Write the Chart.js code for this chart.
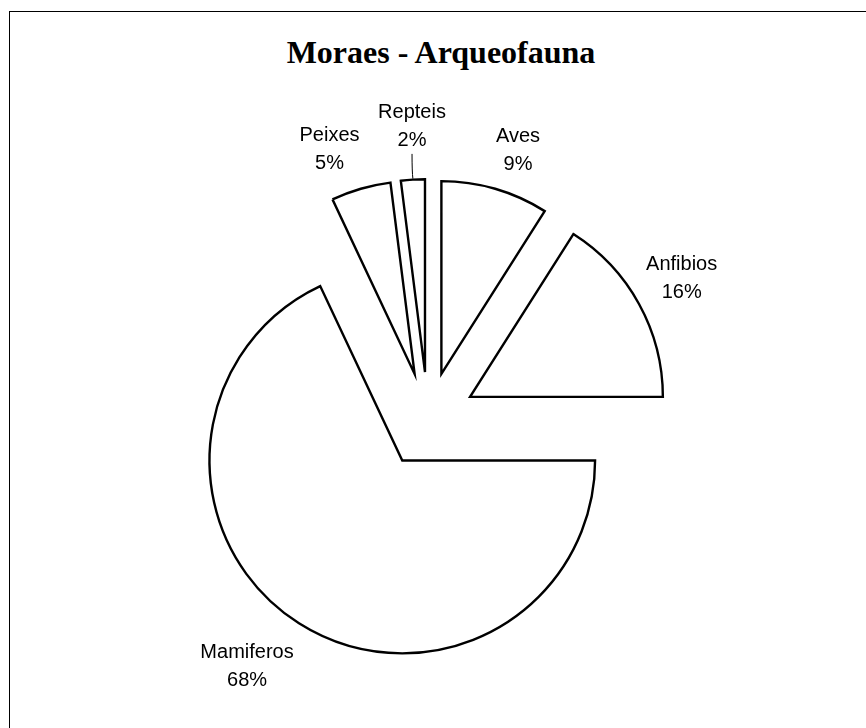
<!DOCTYPE html>
<html>
<head>
<meta charset="utf-8">
<script src="https://cdn.jsdelivr.net/npm/chart.js@4/dist/chart.umd.min.js"></script>
<style>
  html, body { margin: 0; padding: 0; background: #fff; overflow: hidden; }
  #wrap { position: relative; width: 866px; height: 728px; overflow: hidden; }
  #frame { position: absolute; left: 9px; top: 11px; width: 1000px; height: 1000px;
           border-left: 1px solid #000; border-top: 1px solid #000; box-sizing: border-box; }
  #title { position: absolute; left: 441px; top: 36px; transform: translateX(-50%);
           font-family: "Liberation Serif", "Times New Roman", serif; font-weight: bold;
           font-size: 32px; line-height: 32px; white-space: nowrap; color: #000; }
  canvas { position: absolute; left: 0; top: 0; }
</style>
</head>
<body>
<div id="wrap">
  <div id="frame"></div>
  <div id="title">Moraes - Arqueofauna</div>
  <canvas id="c" width="866" height="728"></canvas>
</div>
<script>
// ---- data ----
const categories = ["Aves", "Anfibios", "Mamiferos", "Peixes", "Repteis"];
const percentages = [9, 16, 68, 5, 2];

// ---- style / layout ----
const EXPLODE = 48;
const labelAngleNudge = [2.6, -0.9, 4.9, -4.4, 0.6];   // degrees
const labelGap = [15, 8, 16, 16, 29];                   // px beyond rim
const LABEL_FONT = '20px "Liberation Sans", Arial, sans-serif';
const LINE_H = 28;
const TEXT_SHIFT = 2;

const explodePlugin = {
  id: 'explode',
  beforeDatasetDraw(chart, args) {
    const ctx = chart.ctx;
    args.meta.data.forEach(arc => {
      const p = arc.getProps(['startAngle', 'endAngle'], true);
      const mid = (p.startAngle + p.endAngle) / 2;
      ctx.save();
      ctx.translate(Math.cos(mid) * EXPLODE, Math.sin(mid) * EXPLODE);
      arc.draw(ctx);
      ctx.restore();
    });
    return false;
  }
};

const labelPlugin = {
  id: 'sliceLabels',
  afterDatasetsDraw(chart) {
    const ctx = chart.ctx;
    const meta = chart.getDatasetMeta(0);
    const vals = chart.data.datasets[0].data;
    const total = vals.reduce((a, b) => a + b, 0);
    ctx.save();
    ctx.font = LABEL_FONT;
    ctx.fillStyle = '#000';
    ctx.textAlign = 'center';
    ctx.textBaseline = 'middle';
    meta.data.forEach((arc, i) => {
      const p = arc.getProps(['x', 'y', 'startAngle', 'endAngle', 'outerRadius'], true);
      const mid = (p.startAngle + p.endAngle) / 2;
      const ex = p.x + Math.cos(mid) * EXPLODE;
      const ey = p.y + Math.sin(mid) * EXPLODE;
      const a = mid + labelAngleNudge[i] * Math.PI / 180;
      const dx = Math.cos(a), dy = Math.sin(a);
      const name = chart.data.labels[i];
      const pct = Math.round(vals[i] / total * 100) + '%';
      const w = Math.max(ctx.measureText(name).width, ctx.measureText(pct).width);
      const h = LINE_H + 20;
      const half = Math.abs(dx) * w / 2 + Math.abs(dy) * h / 2;
      const dist = p.outerRadius + labelGap[i] + half;
      const cx = ex + dx * dist;
      const cy = ey + dy * dist + TEXT_SHIFT;
      ctx.fillText(name, cx, cy - LINE_H / 2);
      ctx.fillText(pct, cx, cy + LINE_H / 2);
      if (labelGap[i] > 20) {
        const rx = ex + Math.cos(mid) * p.outerRadius;
        const ry = ey + Math.sin(mid) * p.outerRadius;
        ctx.beginPath();
        ctx.lineWidth = 1;
        ctx.strokeStyle = '#000';
        ctx.moveTo(cx, cy + LINE_H / 2 + 13);
        ctx.quadraticCurveTo(cx, ry - 8, rx, ry - 1);
        ctx.stroke();
      }
    });
    ctx.restore();
  }
};

new Chart(document.getElementById('c'), {
  type: 'pie',
  data: {
    labels: categories,
    datasets: [{
      data: percentages,
      backgroundColor: '#ffffff',
      borderColor: '#000000',
      borderWidth: 2.4,
      borderJoinStyle: 'miter',
      hoverOffset: 0
    }]
  },
  options: {
    responsive: false,
    animation: false,
    devicePixelRatio: 1,
    layout: { padding: { left: 234, right: 244, top: 226, bottom: 114 } },
    plugins: {
      legend: { display: false },
      title: { display: false },
      tooltip: { enabled: false }
    },
    events: []
  },
  plugins: [explodePlugin, labelPlugin]
});
</script>
</body>
</html>
